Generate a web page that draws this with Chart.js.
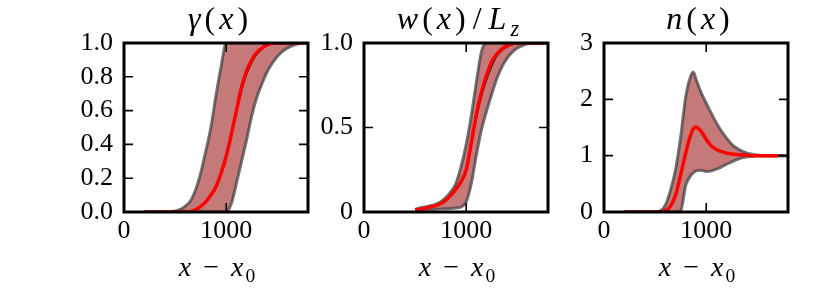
<!DOCTYPE html>
<html lang="en">
<head>
  <meta charset="UTF-8">
  <title>Profiles</title>
  <script src="https://cdn.jsdelivr.net/npm/chart.js@4.4.1/dist/chart.umd.min.js"></script>
  <style>
    body { margin: 0; background: #fff; }
    #wrap { position: relative; width: 830px; height: 291px; overflow: hidden; font-family: "Liberation Serif", serif; color: #000; }
    .panel { position: absolute; top: 0; }
    .ttl, .xl { position: absolute; width: 184px; text-align: center; white-space: nowrap; }
    .ttl { top: 0; font-size: 32px; line-height: 36px; letter-spacing: 4px; padding-left: 4px; }
    .slash { padding: 0 3px; }
    .xl { top: 251px; font-size: 28px; line-height: 32px; letter-spacing: 2px; padding-left: 2px; }
    .op { padding: 0 10px; }
    sub { font-size: 70%; line-height: 0; vertical-align: -0.3em; }
  </style>
</head>
<body>
<div id="wrap">
  <canvas class="panel" id="c1" width="256" height="291" style="left:54px"></canvas>
  <canvas class="panel" id="c2" width="256" height="291" style="left:294px"></canvas>
  <canvas class="panel" id="c3" width="256" height="291" style="left:534px"></canvas>

  <div class="ttl" style="left:124px"><i>γ</i>(<i>x</i>)</div>
  <div class="ttl" style="left:364px"><i>w</i>(<i>x</i>)<span class="slash">/</span><i>L<sub>z</sub></i></div>
  <div class="ttl" style="left:604px"><i>n</i>(<i>x</i>)</div>

  <div class="xl" style="left:124px"><i>x</i><span class="op">−</span><i>x</i><sub>0</sub></div>
  <div class="xl" style="left:364px"><i>x</i><span class="op">−</span><i>x</i><sub>0</sub></div>
  <div class="xl" style="left:604px"><i>x</i><span class="op">−</span><i>x</i><sub>0</sub></div>
</div>

<script>
// shared x axis
const xTicks = [0, 1000];
const xLabels = ['0', '1000'];

// gamma(x)
const xs1 = [200, 450, 550, 600, 650, 700, 750, 800, 850, 900, 950, 1000, 1050, 1100, 1150, 1200, 1250, 1300, 1350, 1400, 1450, 1500, 1550, 1600, 1650, 1700, 1750, 1800];
const upper1 = [0, 0, 0.015, 0.035, 0.065, 0.13, 0.23, 0.36, 0.5, 0.69, 0.86, 1, 1, 1, 1, 1, 1, 1, 1, 1, 1, 1, 1, 1, 1, 1, 1, 1];
const lower1 = [0, 0, 0, 0, 0, 0, 0, 0, 0, 0, 0, 0, 0.05, 0.17, 0.3, 0.43, 0.57, 0.68, 0.76, 0.83, 0.88, 0.92, 0.95, 0.97, 0.985, 0.995, 1, 1];
const red1 = [0, 0, 0, 0, 0.002, 0.013, 0.033, 0.06, 0.1, 0.15, 0.23, 0.33, 0.46, 0.6, 0.74, 0.835, 0.9, 0.945, 0.97, 0.99, 1, 1, 1, 1, 1, 1, 1, 1];
const black1 = [0, 0, 0, 0, 0.002, 0.013, 0.033, 0.06, 0.1, 0.15, 0.23, 0.33, 0.45, 0.58, 0.71, 0.81, 0.88, 0.93, 0.962, 0.982, 0.994, 1, 1, 1, 1, 1, 1, 1];
const yTicks1 = [0, 0.2, 0.4, 0.6, 0.8, 1];
const yLabels1 = ['0.0', '0.2', '0.4', '0.6', '0.8', '1.0'];

// w(x)/Lz
const xs2 = [500, 550, 600, 650, 700, 750, 800, 850, 900, 950, 1000, 1050, 1100, 1150, 1200, 1250, 1300, 1350, 1400, 1450, 1500, 1550, 1600, 1650, 1700, 1750, 1800];
const upper2 = [0.015, 0.025, 0.03, 0.037, 0.045, 0.06, 0.085, 0.12, 0.17, 0.27, 0.4, 0.57, 0.77, 0.95, 1, 1, 1, 1, 1, 1, 1, 1, 1, 1, 1, 1, 1];
const lower2 = [0.01, 0.011, 0.013, 0.015, 0.016, 0.018, 0.019, 0.021, 0.024, 0.03, 0.06, 0.17, 0.34, 0.49, 0.6, 0.7, 0.79, 0.86, 0.91, 0.945, 0.97, 0.985, 0.995, 1, 1, 1, 1];
const red2 = [0.012, 0.017, 0.022, 0.03, 0.038, 0.05, 0.07, 0.1, 0.135, 0.18, 0.25, 0.41, 0.58, 0.71, 0.81, 0.89, 0.935, 0.965, 0.985, 0.995, 1, 1, 1, 1, 1, 1, 1];
const black2 = [0.012, 0.017, 0.022, 0.03, 0.038, 0.05, 0.07, 0.1, 0.135, 0.18, 0.25, 0.39, 0.55, 0.68, 0.78, 0.86, 0.92, 0.955, 0.975, 0.99, 0.997, 1, 1, 1, 1, 1, 1];
const yTicks2 = [0, 0.5, 1];
const yLabels2 = ['0', '0.5', '1.0'];

// n(x)
const xs3 = [200, 450, 500, 550, 600, 650, 700, 750, 800, 850, 875, 900, 950, 1000, 1050, 1100, 1150, 1200, 1250, 1300, 1350, 1400, 1450, 1500, 1550, 1600, 1650, 1700, 1750, 1800];
const upper3 = [0, 0, 0.005, 0.02, 0.12, 0.38, 0.75, 1.33, 2.05, 2.42, 2.48, 2.36, 2.12, 1.93, 1.75, 1.58, 1.43, 1.31, 1.2, 1.13, 1.08, 1.045, 1.025, 1.01, 1, 1, 1, 1, 1, 1];
const lower3 = [0, 0, 0, 0, 0, 0, 0, 0.02, 0.48, 0.65, 0.7, 0.73, 0.74, 0.72, 0.73, 0.76, 0.8, 0.85, 0.89, 0.93, 0.96, 0.98, 0.99, 1, 1, 1, 1, 1, 1, 1];
const red3 = [0, 0, 0, 0, 0.02, 0.1, 0.3, 0.66, 1.05, 1.38, 1.48, 1.51, 1.43, 1.29, 1.17, 1.11, 1.07, 1.045, 1.03, 1.02, 1.012, 1.006, 1, 1, 1, 1, 1, 1];
const black3 = [0, 0, 0, 0, 0.02, 0.1, 0.3, 0.66, 1.05, 1.38, 1.48, 1.51, 1.4, 1.25, 1.15, 1.1, 1.07, 1.05, 1.035, 1.022, 1.012, 1.005, 1, 1, 1, 1, 1, 1, 1, 1];
const yTicks3 = [0, 1, 2, 3];
const yLabels3 = ['0', '1', '2', '3'];

const tickFont = { family: 'Liberation Serif', size: 26 };
const bandColor = 'rgb(197, 121, 121)';
const edgeColor = 'rgba(70, 70, 70, 0.75)';

function pts(xs, ys) {
  return ys.map((y, i) => ({ x: xs[i], y: y }));
}

// black frame plus inward ticks on all four sides
const framePlugin = {
  id: 'frame',
  afterDatasetsDraw(chart) {
    const { ctx, chartArea: a, scales } = chart;
    const len = 9;
    ctx.save();
    ctx.strokeStyle = '#000';
    ctx.lineWidth = 1.6;
    ctx.beginPath();
    scales.y.ticks.forEach(t => {
      if (t.value <= scales.y.min || t.value >= scales.y.max) return;
      const y = scales.y.getPixelForValue(t.value);
      ctx.moveTo(a.left, y); ctx.lineTo(a.left + len, y);
      ctx.moveTo(a.right, y); ctx.lineTo(a.right - len, y);
    });
    scales.x.ticks.forEach(t => {
      if (t.value <= scales.x.min || t.value >= scales.x.max) return;
      const x = scales.x.getPixelForValue(t.value);
      ctx.moveTo(x, a.top); ctx.lineTo(x, a.top + len);
      ctx.moveTo(x, a.bottom); ctx.lineTo(x, a.bottom - len);
    });
    ctx.stroke();
    ctx.lineWidth = 3;
    ctx.strokeRect(a.left, a.top, a.right - a.left, a.bottom - a.top);
    ctx.restore();
  }
};

function makePanel(id, xs, upper, lower, red, black, yMax, yTicks, yLabels) {
  new Chart(document.getElementById(id), {
    type: 'line',
    data: {
      datasets: [
        { data: pts(xs, red), borderColor: '#ff0000', borderWidth: 3.5 },
        { data: pts(xs, black), borderColor: '#000', borderWidth: 1 },
        { data: pts(xs, upper), borderColor: edgeColor, borderWidth: 3 },
        { data: pts(xs, lower), borderColor: edgeColor, borderWidth: 3 },
        { data: pts(xs, upper), borderWidth: 0, borderColor: 'rgba(0,0,0,0)', backgroundColor: bandColor, fill: '+1' },
        { data: pts(xs, lower), borderWidth: 0, borderColor: 'rgba(0,0,0,0)' }
      ]
    },
    options: {
      responsive: false,
      animation: false,
      devicePixelRatio: 1,
      layout: { padding: { top: 43, right: 2, left: 0, bottom: 0 } },
      elements: {
        point: { radius: 0 },
        line: { cubicInterpolationMode: 'monotone' }
      },
      plugins: { legend: { display: false }, tooltip: { enabled: false } },
      scales: {
        x: {
          type: 'linear', min: 0, max: 1800,
          grid: { display: false, drawTicks: false }, border: { display: false },
          afterFit(s) { s.height = 79; },
          afterBuildTicks(s) { s.ticks = xTicks.map(v => ({ value: v })); },
          ticks: { color: '#000', font: tickFont, padding: 4, maxRotation: 0, autoSkip: false,
                   callback: (v, i) => xLabels[i] }
        },
        y: {
          min: 0, max: yMax,
          grid: { display: false, drawTicks: false }, border: { display: false },
          afterFit(s) { s.width = 70; },
          afterBuildTicks(s) { s.ticks = yTicks.map(v => ({ value: v })); },
          ticks: { color: '#000', font: tickFont, padding: 11, autoSkip: false,
                   callback: (v, i) => yLabels[i] }
        }
      }
    },
    plugins: [framePlugin]
  });
}

makePanel('c1', xs1, upper1, lower1, red1, black1, 1, yTicks1, yLabels1);
makePanel('c2', xs2, upper2, lower2, red2, black2, 1, yTicks2, yLabels2);
makePanel('c3', xs3, upper3, lower3, red3, black3, 3, yTicks3, yLabels3);
</script>
</body>
</html>
